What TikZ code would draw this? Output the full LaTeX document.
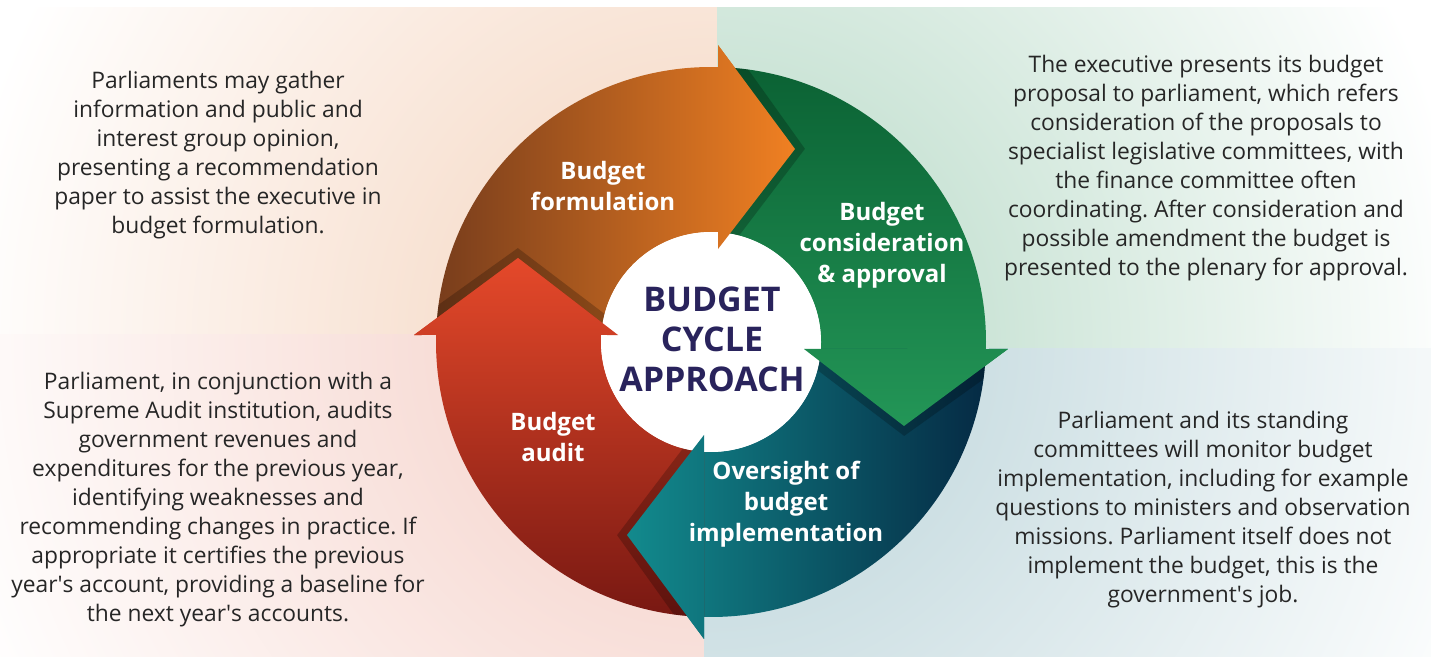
\documentclass[tikz,border=0pt]{standalone}
\usepackage{fontspec}
\setmainfont{Open Sans}
\usepackage{tikz}
\frenchspacing

\definecolor{peachbg}{HTML}{F8E2D3}
\definecolor{greenbg}{HTML}{CDE5D8}
\definecolor{pinkbg}{HTML}{F8DED8}
\definecolor{bluebg}{HTML}{CEE0E4}
\definecolor{formD}{HTML}{783D1C}
\definecolor{formL}{HTML}{F08022}
\definecolor{consD}{HTML}{0B6234}
\definecolor{consM}{HTML}{1C8B4D}
\definecolor{consL}{HTML}{239657}
\definecolor{overL}{HTML}{128A8D}
\definecolor{overM}{HTML}{0C4B62}
\definecolor{overD}{HTML}{052A44}
\definecolor{auditL}{HTML}{E5492A}
\definecolor{auditD}{HTML}{781812}
\definecolor{cyclenavy}{HTML}{29235C}
\definecolor{notegray}{HTML}{262626}

% soft quadrant backgrounds, full tint near the wheel, white at the page edges
\pgfdeclareradialshading{peachfade}{\pgfpoint{0bp}{0bp}}{color(0bp)=(peachbg); color(7bp)=(peachbg); color(19bp)=(white); color(50bp)=(white)}
\pgfdeclareradialshading{greenfade}{\pgfpoint{0bp}{0bp}}{color(0bp)=(greenbg); color(7bp)=(greenbg); color(19bp)=(white); color(50bp)=(white)}
\pgfdeclareradialshading{pinkfade}{\pgfpoint{0bp}{0bp}}{color(0bp)=(pinkbg); color(7bp)=(pinkbg); color(20bp)=(white); color(50bp)=(white)}
\pgfdeclareradialshading{bluefade}{\pgfpoint{0bp}{0bp}}{color(0bp)=(bluebg); color(7bp)=(bluebg); color(21bp)=(white); color(50bp)=(white)}

% one curved arrow of the wheel, turned by #1 degrees (0 = top quarter)
\newcommand{\arrowpath}[1]{(#1+178.54:275) arc[start angle=#1+178.54, end angle=#1+88.54, radius=275]
  -- (#1+88.65:297.08) -- (#1+66.48:210.5) -- (#1+85.70:93.26)
  -- (#1+86.35:110) arc[start angle=#1+86.35, end angle=#1+176.35, radius=110] -- cycle}
\newcommand{\headpath}[1]{(#1+88.65:297.08) -- (#1+66.48:210.5) -- (#1+85.70:93.26) -- cycle}
\newcommand{\shadowpath}[1]{(#1+86.20:297.6) -- (#1+64.07:214.8) -- (#1+79.11:94.7) -- cycle}

\begin{document}
\begin{tikzpicture}[x=1pt, y=1pt,
    formfill/.style={left color=formD, right color=formL},
    consfill/.style={top color=consD, middle color=consM, bottom color=consL},
    overfill/.style={left color=overL, middle color=overM, right color=overD},
    auditfill/.style={top color=auditL, bottom color=auditD},
    note/.style={text=notegray, align=center, font=\fontsize{22.8}{29}\selectfont},
    steplabel/.style={text=white, align=center, font=\bfseries\fontsize{24}{31}\selectfont}]
  \useasboundingbox (0,0) rectangle (1431,656);

  % backgrounds
  \begin{scope}
    \clip (0,321) rectangle (717,648);
    \shade[shading=peachfade] (711,314) circle (1000);
  \end{scope}
  \begin{scope}
    \clip (717,307) rectangle (1431,648);
    \shade[shading=greenfade] (711,314) circle (1000);
  \end{scope}
  \begin{scope}
    \clip (0,0) rectangle (704,321);
    \shade[shading=pinkfade] (711,314) circle (1000);
  \end{scope}
  \begin{scope}
    \clip (704,0) rectangle (1431,307);
    \shade[shading=bluefade] (711,314) circle (1000);
  \end{scope}

  % the wheel
  \begin{scope}[shift={(711,314)}]
    % arrow bodies
    \foreach \a/\s in {0/formfill,-90/consfill,-180/overfill,-270/auditfill}
      \shade[\s] \arrowpath{\a};
    % shadows of the heads on the next arrow
    \begin{scope}
      \clip (0,0) circle (275);
      \foreach \a in {0,-90,-180,-270}
        \fill[black, opacity=0.22] \shadowpath{\a};
    \end{scope}
    \fill[white] (0,0) circle (110);
    % heads drawn again on top
    \foreach \a/\s in {0/formfill,-90/consfill,-180/overfill,-270/auditfill} {
      \begin{scope}
        \clip \headpath{\a};
        \shade[\s] \arrowpath{\a};
      \end{scope}
    }
  \end{scope}

  % centre title
  \node[text=cyclenavy, align=center, font=\bfseries\fontsize{34}{40}\selectfont] (cycle) at (712,317) {BUDGET\\CYCLE\\APPROACH};

  % step labels
  \node[steplabel] (formulation) at (603,470) {Budget\\formulation};
  \node[steplabel] (consideration) at (882,411) {Budget\\consideration\\\& approval};
  \node[steplabel] (oversight) at (786,152) {Oversight of\\budget\\implementation};
  \node[steplabel] (audit) at (553,219) {Budget\\audit};

  % notes
  \node[note] (formnote) at (218,500.5) {Parliaments may gather\\information and public and\\interest group opinion,\\presenting a recommendation\\paper to assist the executive in\\budget formulation.};
  \node[note] (consnote) at (1206,487.5) {The executive presents its budget\\proposal to parliament, which refers\\consideration of the proposals to\\specialist legislative committees, with\\the finance committee often\\coordinating. After consideration and\\possible amendment the budget is\\presented to the plenary for approval.};
  \node[note] (auditnote) at (218,156.5) {Parliament, in conjunction with a\\Supreme Audit institution, audits\\government revenues and\\expenditures for the previous year,\\identifying weaknesses and\\recommending changes in practice. If\\appropriate it certifies the previous\\year\textquotesingle s account, providing a baseline for\\the next year\textquotesingle s accounts.};
  \node[note] (overnote) at (1203,146) {Parliament and its standing\\committees will monitor budget\\implementation, including for example\\questions to ministers and observation\\missions. Parliament itself does not\\implement the budget, this is the\\government\textquotesingle s job.};
\end{tikzpicture}
\end{document}
